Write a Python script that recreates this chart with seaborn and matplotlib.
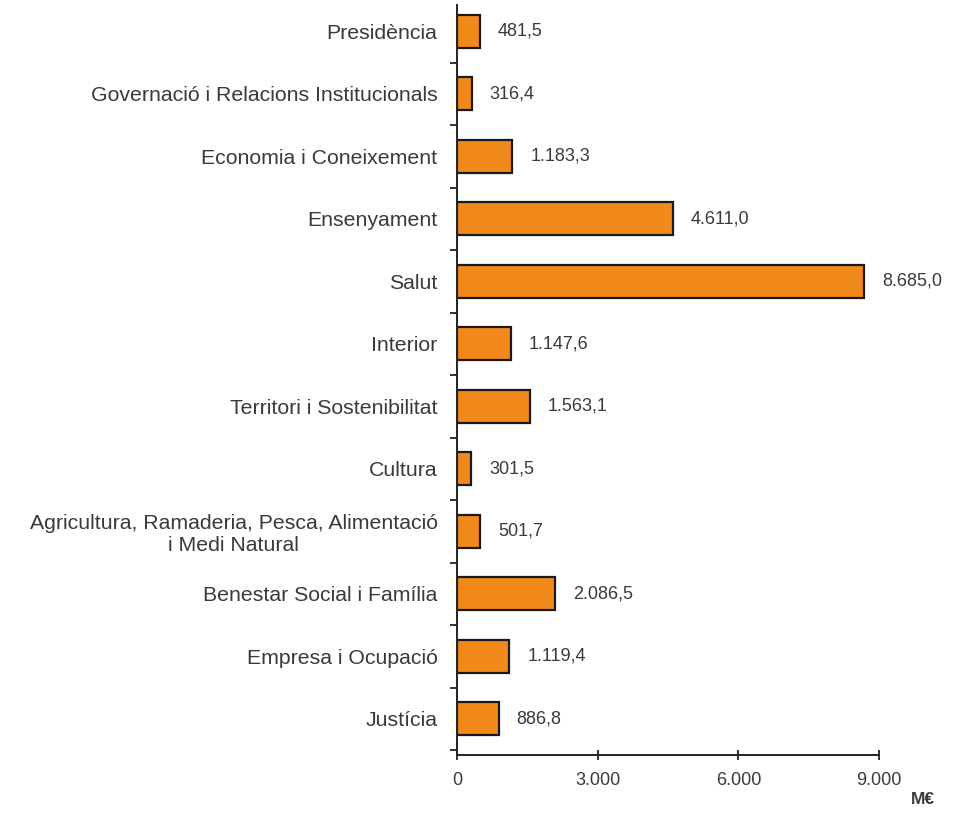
import matplotlib
matplotlib.use("Agg")
import matplotlib.pyplot as plt
import seaborn as sns
import pandas as pd
from matplotlib.ticker import FixedLocator

departaments = [
    "Presidència",
    "Governació i Relacions Institucionals",
    "Economia i Coneixement",
    "Ensenyament",
    "Salut",
    "Interior",
    "Territori i Sostenibilitat",
    "Cultura",
    "Agricultura, Ramaderia, Pesca, Alimentació\ni Medi Natural",
    "Benestar Social i Família",
    "Empresa i Ocupació",
    "Justícia",
]
pressupost = [481.5, 316.4, 1183.3, 4611.0, 8685.0, 1147.6,
              1563.1, 301.5, 501.7, 2086.5, 1119.4, 886.8]
x_ticks = [0, 3000, 6000, 9000]


def fmt_ca(v, dec=1):
    s = f"{v:,.{dec}f}"
    return s.replace(",", "X").replace(".", ",").replace("X", ".")


sns.set_style("white")
plt.rcParams["font.family"] = ["Liberation Sans", "DejaVu Sans"]
text_color = "#3a3a3a"
fs_cat = 15.3
fs_num = 13

df = pd.DataFrame({"dep": departaments, "val": pressupost})

fig = plt.figure(figsize=(9.61, 8.15), dpi=100)
ax = fig.add_axes([0.4755, 0.0736, 0.4392, 0.9202])

sns.barplot(data=df, y="dep", x="val", orient="h", color="#F28A1B",
            saturation=1, width=0.53, edgecolor="#1a1a1a", linewidth=1.6, ax=ax)

ax.set_xlabel("")
ax.set_ylabel("")

for side in ["top", "right"]:
    ax.spines[side].set_visible(False)
for side in ["left", "bottom"]:
    ax.spines[side].set_color("#222222")
    ax.spines[side].set_linewidth(1.4)

ax.xaxis.set_major_locator(FixedLocator(x_ticks))
ax.set_xticklabels([fmt_ca(t, 0) for t in x_ticks], fontsize=fs_num, color=text_color)
ax.tick_params(axis="x", bottom=True, direction="inout", length=7, width=1.3,
               color="#222222", pad=9)

ax.set_yticks(range(len(departaments)))
ax.set_yticklabels(departaments, fontsize=fs_cat, color=text_color, multialignment="center")
ax.tick_params(axis="y", which="major", left=False, length=0, pad=14)
ax.set_yticks([i + 0.5 for i in range(0, len(departaments))], minor=True)
ax.tick_params(axis="y", which="minor", left=True, direction="out", length=5,
               width=1.3, color="#222222")

# limits last: set_yticks can widen the view
ax.set_xlim(0, 9000)
ax.set_ylim(11.58, -0.42)

for i, v in enumerate(pressupost):
    ax.text(v + 380, i, fmt_ca(v), va="center", ha="left",
            fontsize=fs_num, color=text_color)

fig.text(0.973, 0.01, "M€", ha="right", va="bottom", fontsize=12.5,
         fontweight="bold", color=text_color)

fig.savefig("out.png", dpi=100)
